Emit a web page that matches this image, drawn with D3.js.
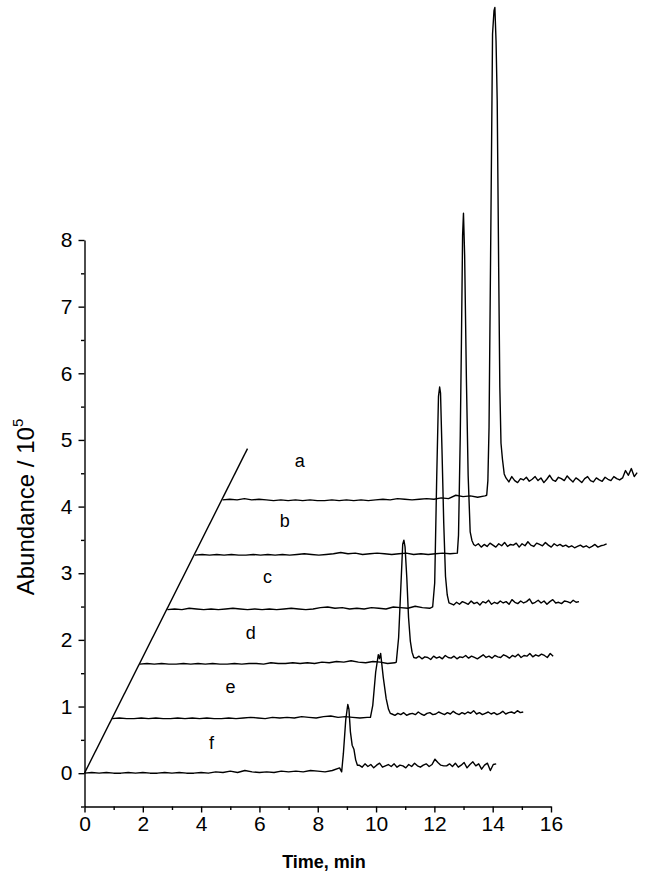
<!DOCTYPE html>
<html><head><meta charset="utf-8">
<script src="https://cdn.jsdelivr.net/npm/d3@7"></script>
<style>
body{margin:0;background:#fff}
svg text{font-family:Arial,"Liberation Sans",sans-serif;fill:#000}
</style>
</head><body>
<svg id="chart" width="646" height="882"></svg>
<script>
// ---- data (abundance in hundredths of 10^5, time in min) ----
const traceNames = ["f","e","d","c","b","a"];
const preStep = 0.25, postStep = 0.1;

const preF = [0,1,0,1,0,0,1,0,1,0,0,1,0,1,0,0,1,0,2,1,3,1,4,2,1,2,1,3,2,3,2,4,3,2,4,8];
const peakF = [[8.82,2],[8.88,30],[8.96,80],[9.03,103],[9.07,96],[9.12,62],[9.18,42],[9.24,36],[9.3,20],[9.36,12]];
const postStartF = 9.42;
const postF = [12,9,14,10,13,8,12,15,9,11,13,10,14,9,12,11,8,13,10,15,11,9,12,14,10,13,21,16,12,11,11,14,10,15,9,12,16,8,13,17,11,14,6,12,15,4,13,14];

const preE = [0,1,0,0,1,0,1,0,0,1,0,1,0,1,0,0,1,0,1,2,1,0,2,1,2,1,3,2,1,3,4,2,3,2,1,2];
const peakE = [[8.86,2],[8.94,20],[9.04,70],[9.13,96],[9.17,90],[9.21,98],[9.3,62],[9.4,30],[9.48,14],[9.54,8]];
const postStartE = 9.6;
const postE = [7,5,8,6,9,5,7,8,6,10,7,5,8,9,6,7,10,8,6,9,7,11,8,6,9,7,10,8,12,7,9,6,8,10,7,9,6,8,11,7,9,10,8,12,9,10];

const preD = [0,1,0,1,0,0,1,0,1,0,1,0,0,1,0,1,1,0,2,1,1,2,1,2,1,3,2,4,3,5,3,2,4,3,1,2];
const peakD = [[8.8,3],[8.88,40],[8.96,120],[9.02,180],[9.06,186],[9.1,176],[9.16,130],[9.22,70],[9.28,35],[9.34,18],[9.4,10]];
const postStartD = 9.48;
const postD = [9,12,8,11,10,7,12,9,11,8,13,10,9,12,8,11,10,13,9,12,10,8,11,14,10,12,9,13,11,10,14,12,9,13,11,15,10,13,12,16,11,14,12,15,13,10,16,12];

const preC = [0,1,0,2,1,0,1,0,1,2,1,0,1,0,1,0,1,2,1,0,1,3,4,2,3,1,2,1,3,2,1,4,3,2,5,3,2];
const peakC = [[9.1,4],[9.17,40],[9.24,200],[9.3,320],[9.34,334],[9.37,325],[9.42,240],[9.48,130],[9.54,50],[9.6,22],[9.66,10]];
const postStartC = 9.72;
const postC = [9,7,11,8,12,10,8,13,9,11,7,12,10,14,8,11,9,13,10,12,8,15,11,9,13,10,12,16,9,11,14,10,13,8,12,15,10,11,9,13,12,10,14,11,12];

const preB = [0,1,0,1,0,1,0,0,1,0,1,0,1,0,1,2,1,0,1,2,4,2,3,1,2,3,2,1,2,3,1,2,1,2,3,2,3];
const peakB = [[9.04,30],[9.1,180],[9.14,320],[9.18,480],[9.21,513],[9.25,450],[9.31,265],[9.37,120],[9.44,35],[9.5,22],[9.56,16]];
const postStartB = 9.62;
const postB = [14,17,12,16,13,18,15,12,17,14,19,13,16,15,18,12,17,14,20,15,13,18,16,14,19,15,12,17,14,16,13,15,12,14,11,13,15,12,14,11,13,16,12,14,15,17];

const preA = [1,2,1,3,1,2,1,0,1,0,1,0,1,0,0,1,0,1,0,1,0,1,2,1,3,2,1,2,3,2,4,3,8,6,7,5,7];
const peakA = [[9.06,8],[9.1,30],[9.14,110],[9.2,400],[9.26,700],[9.31,735],[9.34,740],[9.38,690],[9.42,600],[9.47,350],[9.51,170],[9.55,86],[9.6,62],[9.66,40]];
const postStartA = 9.72;
const postA = [34,28,36,30,27,33,31,35,29,32,36,30,34,27,32,38,31,29,35,33,30,37,32,28,34,31,27,33,36,30,28,34,31,29,35,32,30,36,33,31,34,45,38,48,36,42];

// waterfall offset per trace (data units)
const offsetX = 0.947, offsetY = 0.818;
const diagonal = [[0,0],[5.59,4.87]];
// trace label positions (data units)
const labelPos = [[4.36,0.46],[5.01,1.30],[5.70,2.10],[6.28,2.94],[6.87,3.78],[7.38,4.69]];

const xTicks = [0,2,4,6,8,10,12,14,16];
const xMinor = [1,3,5,7,9,11,13,15];
const yTicks = [0,1,2,3,4,5,6,7,8];
const yMinor = [-0.5,0.5,1.5,2.5,3.5,4.5,5.5,6.5,7.5];

// ---- build ----
function build(pre, peak, postStart, post){
  const pts = pre.map((v,i)=>[i*preStep, v/100]);
  peak.forEach(p=>pts.push([p[0], p[1]/100]));
  post.forEach((v,i)=>pts.push([postStart + i*postStep, v/100]));
  return pts;
}
const traces = [
  build(preF, peakF, postStartF, postF),
  build(preE, peakE, postStartE, postE),
  build(preD, peakD, postStartD, postD),
  build(preC, peakC, postStartC, postC),
  build(preB, peakB, postStartB, postB),
  build(preA, peakA, postStartA, postA)
];

const svg = d3.select("#chart");
const x = d3.scaleLinear().domain([0,16]).range([84.5,551]);
const y = d3.scaleLinear().domain([-0.5,8]).range([806.5,240]);

// axes
const gx = svg.append("g").attr("transform",`translate(0,${y(-0.5)})`);
gx.call(d3.axisBottom(x).tickValues(xTicks).tickSize(6).tickSizeOuter(0).tickPadding(4).tickFormat(d3.format("d")));
const gxm = svg.append("g").attr("transform",`translate(0,${y(-0.5)})`);
gxm.call(d3.axisBottom(x).tickValues(xMinor).tickSize(3.5).tickSizeOuter(0).tickFormat(""));
gxm.select(".domain").remove();

const gy = svg.append("g").attr("transform",`translate(${x(0)},0)`);
gy.call(d3.axisLeft(y).tickValues(yTicks).tickSize(6).tickSizeOuter(0).tickPadding(6).tickFormat(d3.format("d")));
const gym = svg.append("g").attr("transform",`translate(${x(0)},0)`);
gym.call(d3.axisLeft(y).tickValues(yMinor).tickSize(3.5).tickSizeOuter(0).tickFormat(""));
gym.select(".domain").remove();

svg.selectAll(".domain, .tick line").attr("stroke","#000").attr("stroke-width",1.4);
svg.selectAll(".tick text").attr("font-size",21).attr("font-family","Arial, 'Liberation Sans', sans-serif").attr("fill","#000");

// axis titles
svg.append("text").attr("x",324).attr("y",868).attr("text-anchor","middle")
  .attr("font-size",18).attr("font-weight","bold").text("Time, min");
const yt = svg.append("text").attr("transform","translate(34,507) rotate(-90)")
  .attr("text-anchor","middle").attr("font-size",24);
yt.append("tspan").text("Abundance / 10");
yt.append("tspan").attr("font-size",15).attr("dy","-0.75em").text("5");

// diagonal
svg.append("line")
  .attr("x1",x(diagonal[0][0])).attr("y1",y(diagonal[0][1]))
  .attr("x2",x(diagonal[1][0])).attr("y2",y(diagonal[1][1]))
  .attr("stroke","#000").attr("stroke-width",1.4);

// traces
traces.forEach((pts,i)=>{
  const line = d3.line()
    .x(d=>x(d[0] + i*offsetX))
    .y(d=>y(d[1] + i*offsetY));
  svg.append("path").datum(pts).attr("d",line)
    .attr("fill","none").attr("stroke","#000").attr("stroke-width",1.4)
    .attr("stroke-linejoin","round");
});

// labels
traceNames.forEach((n,i)=>{
  svg.append("text").attr("x",x(labelPos[i][0])).attr("y",y(labelPos[i][1]))
    .attr("text-anchor","middle").attr("dominant-baseline","central")
    .attr("font-size",18).text(n);
});
</script>
</body></html>
